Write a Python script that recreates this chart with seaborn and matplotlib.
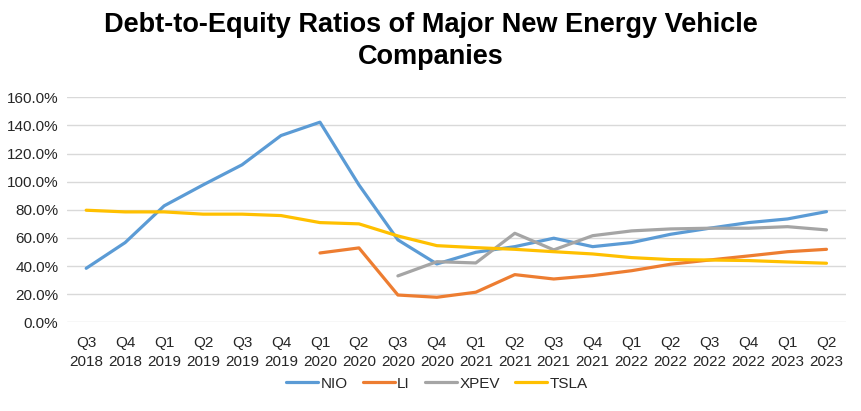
import numpy as np
import pandas as pd
import matplotlib
matplotlib.use("Agg")
import matplotlib.pyplot as plt
import seaborn as sns

quarters = ["Q3\n2018", "Q4\n2018", "Q1\n2019", "Q2\n2019", "Q3\n2019", "Q4\n2019",
            "Q1\n2020", "Q2\n2020", "Q3\n2020", "Q4\n2020", "Q1\n2021", "Q2\n2021",
            "Q3\n2021", "Q4\n2021", "Q1\n2022", "Q2\n2022", "Q3\n2022", "Q4\n2022",
            "Q1\n2023", "Q2\n2023"]
nan = np.nan
nio = [38.4, 56.7, 82.8, 97.7, 112.0, 132.8, 142.3, 97.7, 58.6, 41.5, 49.8, 53.8,
       59.8, 53.8, 56.7, 62.6, 66.9, 70.9, 73.5, 78.7]
li = [nan, nan, nan, nan, nan, nan, 49.3, 52.9, 19.4, 17.8, 21.4, 33.9,
      30.8, 33.2, 36.7, 41.3, 44.3, 47.2, 50.2, 51.9]
xpev = [nan, nan, nan, nan, nan, nan, nan, nan, 33.0, 43.1, 42.2, 63.3,
        51.5, 61.6, 65.0, 66.4, 66.9, 66.9, 68.0, 65.7]
tsla = [79.7, 78.5, 78.5, 76.9, 76.9, 75.9, 70.9, 70.0, 61.4, 54.5, 53.1, 51.9,
        50.2, 48.6, 46.0, 44.6, 44.3, 43.9, 42.9, 42.0]

companies = ["NIO", "LI", "XPEV", "TSLA"]
colors = ["#5B9BD5", "#ED7D31", "#A5A5A5", "#FFC000"]

# long form table for seaborn
rows = []
for name, vals in zip(companies, [nio, li, xpev, tsla]):
    for i, v in enumerate(vals):
        rows.append({"idx": i, "ratio": v, "company": name})
df = pd.DataFrame(rows).dropna()

sns.set_style("white")
plt.rcParams["font.family"] = ["Liberation Sans", "DejaVu Sans"]
txt = "#262626"

fig = plt.figure(figsize=(8.62, 4.11), dpi=100)
ax = fig.add_axes([0.0774, 0.2158, 0.904, 0.5475])

sns.lineplot(data=df, x="idx", y="ratio", hue="company", hue_order=companies,
             palette=colors, linewidth=2.3, ax=ax)

ax.set_xlim(-0.5, len(quarters) - 0.5)
ax.set_ylim(0, 160)
ax.set_yticks(np.arange(0, 161, 20))
ax.set_yticklabels([f"{v:.1f}%" for v in np.arange(0, 161, 20)], fontsize=11, color=txt)
ax.set_xticks(range(len(quarters)))
ax.set_xticklabels(quarters, fontsize=11, color=txt, linespacing=1.45)
ax.tick_params(axis="x", length=0, pad=10)
ax.tick_params(axis="y", length=0, pad=6)
ax.grid(axis="y", color="#D9D9D9", linewidth=1)
ax.set_axisbelow(True)
for s in ax.spines.values():
    s.set_visible(False)
ax.set_xlabel("")
ax.set_ylabel("")

fig.suptitle("Debt-to-Equity Ratios of Major New Energy Vehicle\nCompanies",
             x=0.5, y=0.97, fontsize=19.5, fontweight="bold", color="black", linespacing=1.3)

ax.legend(loc="upper center", bbox_to_anchor=(0.475, -0.18), ncol=4, frameon=False,
          fontsize=11, handlelength=2.1, handletextpad=0.15, columnspacing=1.0,
          labelcolor=txt)

fig.savefig("out.png", dpi=100)
